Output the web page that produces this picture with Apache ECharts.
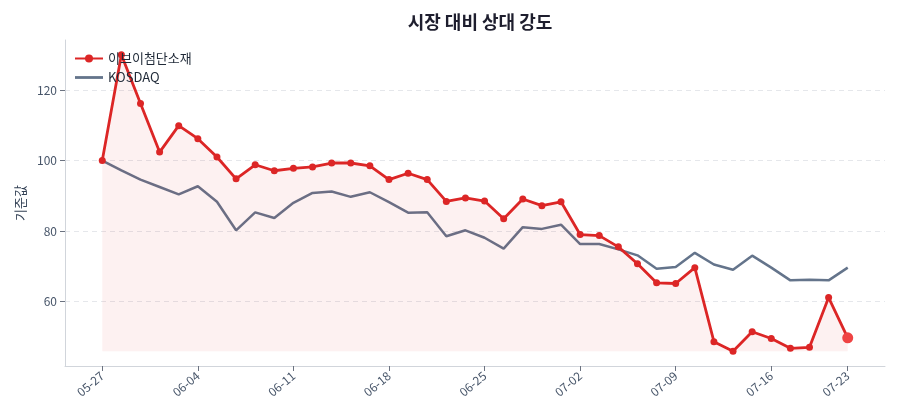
<!DOCTYPE html>
<html>
<head>
<meta charset="utf-8">
<script src="https://cdn.jsdelivr.net/npm/echarts@6/dist/echarts.min.js"></script>
<style>
html,body{margin:0;padding:0;background:#fff;}
#chart{width:900px;height:420px;}
</style>
</head>
<body>
<div id="chart"></div>
<script>
const dates = ['05-27','05-28','05-29','05-30','06-02','06-04','06-05','06-06','06-09','06-10',
  '06-11','06-12','06-13','06-16','06-17','06-18','06-19','06-20','06-23','06-24',
  '06-25','06-26','06-27','06-30','07-01','07-02','07-03','07-04','07-07','07-08',
  '07-09','07-10','07-11','07-14','07-15','07-16','07-17','07-18','07-21','07-23'];
const tickIndices = [0,5,10,15,20,25,30,35,39];
const yTicks = [60,80,100,120];
const stockName = '이브이첨단소재';
const indexName = 'KOSDAQ';
const stockValues = [100,130,116.2,102.4,109.9,106.2,101.0,94.8,98.8,97.1,
  97.8,98.2,99.3,99.3,98.5,94.6,96.4,94.6,88.4,89.4,
  88.5,83.5,89.1,87.2,88.3,79.0,78.7,75.5,70.7,65.3,
  65.1,69.6,48.6,45.9,51.4,49.5,46.7,47.0,61.1,49.7];
const indexValues = [100,97.2,94.6,92.5,90.4,92.7,88.3,80.2,85.3,83.7,
  88.0,90.8,91.2,89.7,91.0,88.2,85.2,85.3,78.5,80.2,
  78.1,75.0,81.1,80.6,81.8,76.3,76.3,74.8,73.1,69.3,
  69.8,73.8,70.5,69.0,73.0,69.6,66.0,66.2,66.0,69.6];

const n = dates.length;
const allVals = stockValues.concat(indexValues);
const vMin = Math.min(...allVals), vMax = Math.max(...allVals);
const yPad = (vMax - vMin) * 0.05;
const xPad = (n - 1) * 0.05;
const stockMin = Math.min(...stockValues);

const stockData = stockValues.map((v, i) => {
  if (i === n - 1) {
    return {value: [i, v], symbolSize: 11, itemStyle: {color: '#ef4444'}};
  }
  return [i, v];
});
const indexData = indexValues.map((v, i) => [i, v]);

const axisColor = '#475569';
const chart = echarts.init(document.getElementById('chart'));
chart.setOption({
  animation: false,
  textStyle: {fontFamily: '"Noto Sans CJK KR", "Noto Sans", sans-serif'},
  title: {
    text: '시장 대비 상대 강도',
    left: 475, top: 8, textAlign: 'center',
    textStyle: {fontSize: 18, fontWeight: 'bold', color: '#1e1e2e',
      fontFamily: '"Noto Sans CJK KR", sans-serif'}
  },
  legend: {
    orient: 'vertical', left: 69, top: 47, itemGap: 6,
    itemWidth: 28, itemHeight: 10,
    textStyle: {fontSize: 13, color: '#1f2937'},
    data: [
      {name: stockName},
      {name: indexName, icon: 'path://M0,3.8 L28,3.8 L28,6.6 L0,6.6 Z'}
    ]
  },
  grid: {left: 65, right: 15, top: 40, bottom: 54},
  xAxis: {
    type: 'value',
    min: -xPad, max: n - 1 + xPad,
    axisLine: {show: true, onZero: false, lineStyle: {color: '#d1d5db', width: 1}},
    axisTick: {show: true, customValues: tickIndices, length: 5, lineStyle: {color: '#6b7280'}},
    axisLabel: {
      customValues: tickIndices,
      rotate: 40, color: axisColor, fontSize: 12, margin: 8,
      formatter: v => dates[Math.round(v)] || ''
    },
    splitLine: {show: false}
  },
  yAxis: {
    type: 'value',
    min: vMin - yPad, max: vMax + yPad,
    name: '기준값', nameLocation: 'middle', nameGap: 38,
    nameTextStyle: {color: '#334155', fontSize: 13},
    axisLine: {show: true, onZero: false, lineStyle: {color: '#d1d5db', width: 1}},
    axisTick: {show: true, customValues: yTicks, length: 5, lineStyle: {color: '#6b7280'}},
    axisLabel: {customValues: yTicks, color: axisColor, fontSize: 12, margin: 8},
    splitLine: {show: true, lineStyle: {type: [5, 4], color: '#e5e7eb', width: 1}}
  },
  series: [
    {
      name: stockName, type: 'line', data: stockData,
      symbol: 'circle', symbolSize: 7, showSymbol: true,
      lineStyle: {color: '#dc2626', width: 2.8},
      itemStyle: {color: '#dc2626'},
      areaStyle: {color: 'rgba(220,38,38,0.09)', origin: stockMin},
      z: 3
    },
    {
      name: indexName, type: 'line', data: indexData,
      symbol: 'none', showSymbol: false,
      lineStyle: {color: '#64748b', width: 2.5},
      itemStyle: {color: '#64748b'},
      z: 2
    }
  ]
});
</script>
</body>
</html>
